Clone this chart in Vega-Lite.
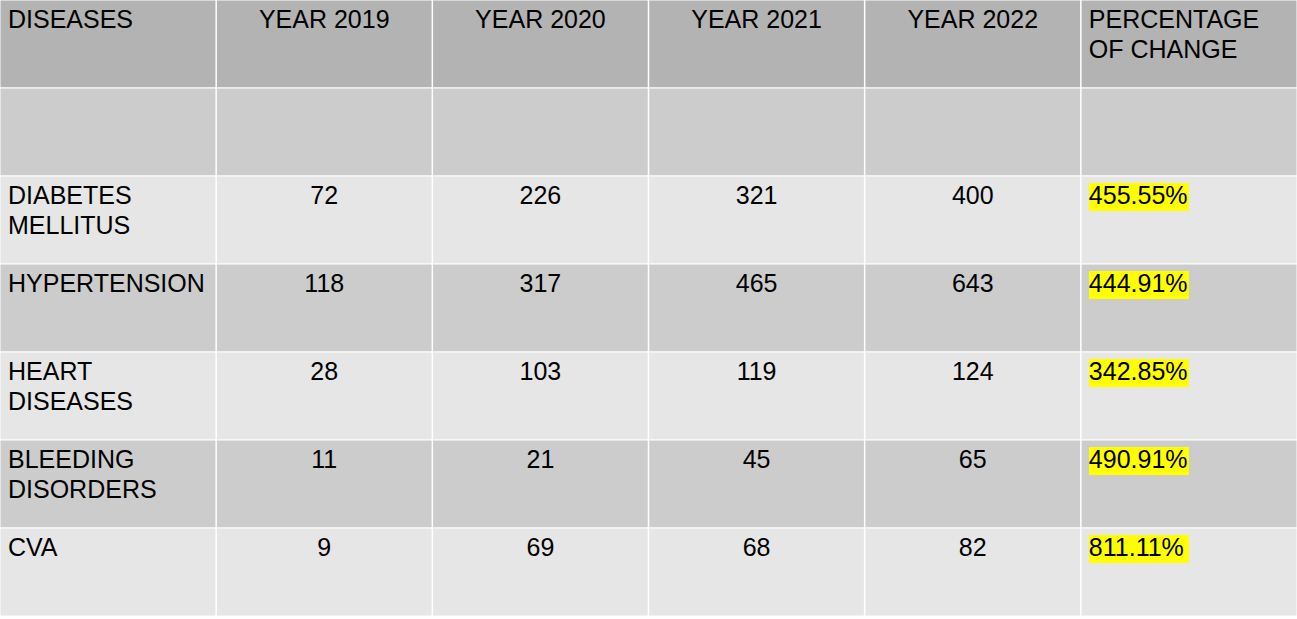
{
  "$schema": "https://vega.github.io/schema/vega-lite/v6.json",
  "width": 1297,
  "height": 619,
  "autosize": {"type": "none"},
  "padding": 0,
  "background": "white",
  "config": {"view": {"stroke": null}},
  "datasets": {
    "rows": [
      {"row": "header"},
      {"row": "blank"},
      {"row": "DIABETES MELLITUS"},
      {"row": "HYPERTENSION"},
      {"row": "HEART DISEASES"},
      {"row": "BLEEDING DISORDERS"},
      {"row": "CVA"}
    ],
    "cells": [
      {"row": "header", "col": "DISEASES", "text": "DISEASES"},
      {"row": "header", "col": "YEAR 2019", "text": "YEAR 2019"},
      {"row": "header", "col": "YEAR 2020", "text": "YEAR 2020"},
      {"row": "header", "col": "YEAR 2021", "text": "YEAR 2021"},
      {"row": "header", "col": "YEAR 2022", "text": "YEAR 2022"},
      {"row": "header", "col": "PERCENTAGE OF CHANGE", "text": "PERCENTAGE\nOF CHANGE"},
      {"row": "DIABETES MELLITUS", "col": "DISEASES", "text": "DIABETES\nMELLITUS"},
      {"row": "DIABETES MELLITUS", "col": "YEAR 2019", "text": "72"},
      {"row": "DIABETES MELLITUS", "col": "YEAR 2020", "text": "226"},
      {"row": "DIABETES MELLITUS", "col": "YEAR 2021", "text": "321"},
      {"row": "DIABETES MELLITUS", "col": "YEAR 2022", "text": "400"},
      {"row": "DIABETES MELLITUS", "col": "PERCENTAGE OF CHANGE", "text": "455.55%"},
      {"row": "HYPERTENSION", "col": "DISEASES", "text": "HYPERTENSION"},
      {"row": "HYPERTENSION", "col": "YEAR 2019", "text": "118"},
      {"row": "HYPERTENSION", "col": "YEAR 2020", "text": "317"},
      {"row": "HYPERTENSION", "col": "YEAR 2021", "text": "465"},
      {"row": "HYPERTENSION", "col": "YEAR 2022", "text": "643"},
      {"row": "HYPERTENSION", "col": "PERCENTAGE OF CHANGE", "text": "444.91%"},
      {"row": "HEART DISEASES", "col": "DISEASES", "text": "HEART\nDISEASES"},
      {"row": "HEART DISEASES", "col": "YEAR 2019", "text": "28"},
      {"row": "HEART DISEASES", "col": "YEAR 2020", "text": "103"},
      {"row": "HEART DISEASES", "col": "YEAR 2021", "text": "119"},
      {"row": "HEART DISEASES", "col": "YEAR 2022", "text": "124"},
      {"row": "HEART DISEASES", "col": "PERCENTAGE OF CHANGE", "text": "342.85%"},
      {"row": "BLEEDING DISORDERS", "col": "DISEASES", "text": "BLEEDING\nDISORDERS"},
      {"row": "BLEEDING DISORDERS", "col": "YEAR 2019", "text": "11"},
      {"row": "BLEEDING DISORDERS", "col": "YEAR 2020", "text": "21"},
      {"row": "BLEEDING DISORDERS", "col": "YEAR 2021", "text": "45"},
      {"row": "BLEEDING DISORDERS", "col": "YEAR 2022", "text": "65"},
      {"row": "BLEEDING DISORDERS", "col": "PERCENTAGE OF CHANGE", "text": "490.91%"},
      {"row": "CVA", "col": "DISEASES", "text": "CVA"},
      {"row": "CVA", "col": "YEAR 2019", "text": "9"},
      {"row": "CVA", "col": "YEAR 2020", "text": "69"},
      {"row": "CVA", "col": "YEAR 2021", "text": "68"},
      {"row": "CVA", "col": "YEAR 2022", "text": "82"},
      {"row": "CVA", "col": "PERCENTAGE OF CHANGE", "text": "811.11%"}
    ]
  },
  "encoding": {
    "y": {
      "field": "row", "type": "nominal", "axis": null,
      "scale": {
        "domain": ["header", "blank", "DIABETES MELLITUS", "HYPERTENSION", "HEART DISEASES", "BLEEDING DISORDERS", "CVA"],
        "range": [0, 616], "paddingInner": 0, "paddingOuter": 0
      }
    }
  },
  "layer": [
    {
      "data": {"name": "rows"},
      "mark": {"type": "rect", "stroke": "white", "strokeWidth": 1},
      "encoding": {
        "color": {
          "field": "row", "type": "nominal", "legend": null,
          "scale": {
            "domain": ["header", "blank", "DIABETES MELLITUS", "HYPERTENSION", "HEART DISEASES", "BLEEDING DISORDERS", "CVA"],
            "range": ["#b3b3b3", "#cccccc", "#e6e6e6", "#cccccc", "#e6e6e6", "#cccccc", "#e6e6e6"]
          }
        }
      }
    },
    {
      "data": {"name": "cells"},
      "transform": [{"filter": "datum.row === 'header' && datum.col !== 'DISEASES'"}],
      "mark": {"type": "rule", "color": "white", "strokeWidth": 1.5},
      "encoding": {
        "y": null,
        "x": {
          "field": "col", "type": "nominal", "axis": null, "bandPosition": 0,
          "scale": {
            "domain": ["DISEASES", "YEAR 2019", "YEAR 2020", "YEAR 2021", "YEAR 2022", "PERCENTAGE OF CHANGE"],
            "range": [0, 1297], "paddingInner": 0, "paddingOuter": 0
          }
        }
      }
    },
    {
      "data": {"name": "cells"},
      "transform": [{"filter": "datum.col === 'PERCENTAGE OF CHANGE' && datum.row !== 'header'"}],
      "mark": {"type": "rect", "fill": "#ffff00", "width": 100, "height": 28, "xOffset": -50, "yOffset": -23},
      "encoding": {
        "x": {
          "field": "col", "type": "nominal", "axis": null,
          "scale": {
            "domain": ["DISEASES", "YEAR 2019", "YEAR 2020", "YEAR 2021", "YEAR 2022", "PERCENTAGE OF CHANGE"],
            "range": [0, 1297], "paddingInner": 0, "paddingOuter": 0
          }
        }
      }
    },
    {
      "data": {"name": "cells"},
      "transform": [{"filter": "datum.col === 'DISEASES' || datum.col === 'PERCENTAGE OF CHANGE'"}],
      "mark": {"type": "text", "align": "left", "baseline": "alphabetic", "dx": 8, "dy": 28, "font": "Liberation Sans", "fontSize": 25, "lineBreak": "\n", "lineHeight": 30, "color": "black"},
      "encoding": {
        "x": {
          "field": "col", "type": "nominal", "axis": null, "bandPosition": 0,
          "scale": {
            "domain": ["DISEASES", "YEAR 2019", "YEAR 2020", "YEAR 2021", "YEAR 2022", "PERCENTAGE OF CHANGE"],
            "range": [0, 1297], "paddingInner": 0, "paddingOuter": 0
          }
        },
        "y": {"field": "row", "type": "nominal", "bandPosition": 0},
        "text": {"field": "text", "type": "nominal"}
      }
    },
    {
      "data": {"name": "cells"},
      "transform": [{"filter": "datum.col !== 'DISEASES' && datum.col !== 'PERCENTAGE OF CHANGE'"}],
      "mark": {"type": "text", "align": "center", "baseline": "alphabetic", "dy": 28, "font": "Liberation Sans", "fontSize": 25, "lineBreak": "\n", "lineHeight": 30, "color": "black"},
      "encoding": {
        "x": {
          "field": "col", "type": "nominal", "axis": null,
          "scale": {
            "domain": ["DISEASES", "YEAR 2019", "YEAR 2020", "YEAR 2021", "YEAR 2022", "PERCENTAGE OF CHANGE"],
            "range": [0, 1297], "paddingInner": 0, "paddingOuter": 0
          }
        },
        "y": {"field": "row", "type": "nominal", "bandPosition": 0},
        "text": {"field": "text", "type": "nominal"}
      }
    }
  ]
}
